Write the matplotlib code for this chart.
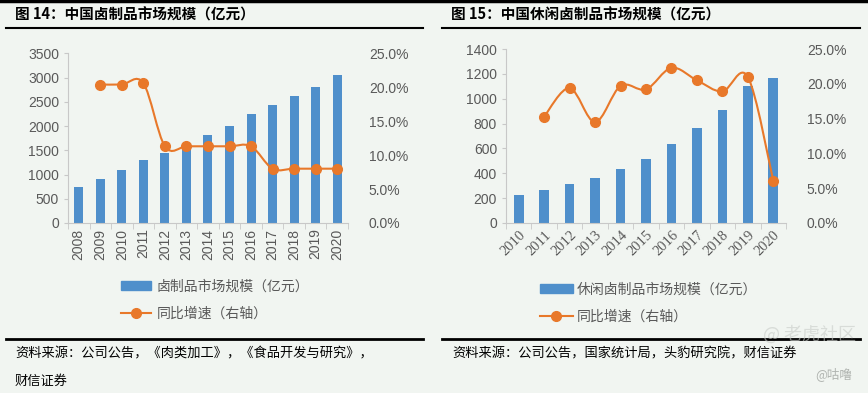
import numpy as np
import matplotlib
matplotlib.use("Agg")
import matplotlib.pyplot as plt
from matplotlib.path import Path
from matplotlib.patches import PathPatch, Patch
from matplotlib.lines import Line2D
from matplotlib.ticker import PercentFormatter

plt.rcParams['font.family'] = ['Liberation Sans', 'Noto Sans CJK SC', 'DejaVu Sans']

# left chart: 卤制品市场规模
years_l = ['2008', '2009', '2010', '2011', '2012', '2013', '2014',
           '2015', '2016', '2017', '2018', '2019', '2020']
size_l = [745, 903, 1088, 1293, 1446, 1620, 1810, 2010, 2244, 2430, 2610, 2815, 3055]
growth_l = [None, 20.4, 20.4, 20.6, 11.3, 11.3, 11.3, 11.3, 11.3, 8.0, 8.0, 8.0, 8.0]

# right chart: 休闲卤制品市场规模
years_r = ['2010', '2011', '2012', '2013', '2014', '2015',
           '2016', '2017', '2018', '2019', '2020']
size_r = [223, 263, 312, 365, 433, 516, 637, 766, 908, 1099, 1169]
growth_r = [None, 15.3, 19.4, 14.5, 19.7, 19.2, 22.3, 20.5, 18.9, 21.0, 6.1]

BG = '#F1F5F1'
BAR = '#4F8FCB'
ORANGE = '#E8782A'
GRAY = '#595959'
CJK = ['Noto Sans CJK SC', 'DejaVu Sans']


def smooth_path(xs, ys):
    # catmull-rom through the points, as cubic bezier segments
    verts = [(xs[0], ys[0])]
    codes = [Path.MOVETO]
    n = len(xs)
    for i in range(n - 1):
        x0, y0 = (xs[i - 1], ys[i - 1]) if i > 0 else (xs[i], ys[i])
        x1, y1 = xs[i], ys[i]
        x2, y2 = xs[i + 1], ys[i + 1]
        x3, y3 = (xs[i + 2], ys[i + 2]) if i + 2 < n else (x2, y2)
        c1 = (x1 + (x2 - x0) / 6, y1 + (y2 - y0) / 6)
        c2 = (x2 - (x3 - x1) / 6, y2 - (y3 - y1) / 6)
        verts += [c1, c2, (x2, y2)]
        codes += [Path.CURVE4] * 3
    return Path(verts, codes)


def draw_panel(rect, years, sizes, growth, ymax, ystep, serif_x, bar_w):
    ax = fig.add_axes(rect)
    ax.set_facecolor('none')
    x = np.arange(len(years))
    ax.bar(x, sizes, width=bar_w, color=BAR, zorder=2)
    ax.set_xlim(-0.5, len(years) - 0.5)
    ax.set_ylim(0, ymax)
    ax.set_yticks(np.arange(0, ymax + 1, ystep))
    for s in ['top', 'right']:
        ax.spines[s].set_visible(False)
    for s in ['left', 'bottom']:
        ax.spines[s].set_color('#C8C8C8')
    ax.tick_params(axis='y', colors='#C8C8C8', labelcolor=GRAY, labelsize=10, length=3)
    ax.set_xticks(x)
    ax.set_xticks(np.arange(-0.5, len(years)), minor=True)
    ax.tick_params(axis='x', which='major', length=0, pad=4, labelcolor=GRAY)
    ax.tick_params(axis='x', which='minor', length=4, color='#C8C8C8')
    if serif_x:
        ax.set_xticklabels(years, rotation=45, ha='right', rotation_mode='anchor',
                           fontfamily='Liberation Serif', fontsize=10.5)
    else:
        ax.set_xticklabels(years, rotation=90, fontsize=10)

    ax2 = ax.twinx()
    ax2.set_ylim(0, 25)
    ax2.set_yticks(np.arange(0, 26, 5))
    ax2.yaxis.set_major_formatter(PercentFormatter(decimals=1))
    ax2.tick_params(axis='y', length=0, labelcolor=GRAY, labelsize=10, pad=15)
    for s in ax2.spines.values():
        s.set_visible(False)
    gx = [xi for xi, g in zip(x, growth) if g is not None]
    gy = [g for g in growth if g is not None]
    ax2.add_patch(PathPatch(smooth_path(gx, gy), fill=False, edgecolor=ORANGE, lw=1.5, zorder=3))
    ax2.plot(gx, gy, 'o', color=ORANGE, ms=7, zorder=4)
    return ax, ax2


fig = plt.figure(figsize=(8.68, 3.93), dpi=100, facecolor=BG)

draw_panel([0.0783, 0.4326, 0.3226, 0.4318], years_l, size_l, growth_l,
           3500, 500, False, 0.42)
draw_panel([0.583, 0.4326, 0.3225, 0.4427], years_r, size_r, growth_r,
           1400, 200, True, 0.38)

# titles and rules
fig.add_artist(Line2D([0, 1], [1 - 1 / 393, 1 - 1 / 393], color='black', lw=2.5))
for x0, x1, title in [(6, 423, '图 14：中国卤制品市场规模（亿元）'),
                      (442, 860, '图 15：中国休闲卤制品市场规模（亿元）')]:
    fig.text((x0 + 9) / 868, 1 - 15 / 393, title, fontsize=10.5, fontweight='bold',
             family=CJK, va='center', ha='left')
    fig.add_artist(Line2D([x0 / 868, x1 / 868], [1 - 28 / 393] * 2, color='black', lw=1.5))
    fig.add_artist(Line2D([x0 / 868, x1 / 868], [1 - 339 / 393] * 2, color='black', lw=2))

# legends
fig.legend(handles=[Patch(color=BAR, label='卤制品市场规模（亿元）'),
                    Line2D([], [], color=ORANGE, marker='o', ms=7, lw=1.5, label='同比增速（右轴）')],
           loc='center left', bbox_to_anchor=(108 / 868, 1 - 300 / 393), frameon=False,
           prop={'family': CJK, 'size': 10}, handlelength=2.2, handleheight=0.6,
           handletextpad=0.4, labelspacing=0.9, labelcolor=GRAY)
fig.legend(handles=[Patch(color=BAR, label='休闲卤制品市场规模（亿元）'),
                    Line2D([], [], color=ORANGE, marker='o', ms=7, lw=1.5, label='同比增速（右轴）')],
           loc='center left', bbox_to_anchor=(527 / 868, 1 - 303 / 393), frameon=False,
           prop={'family': CJK, 'size': 10}, handlelength=2.4, handleheight=0.6,
           handletextpad=0.3, labelspacing=0.9, labelcolor=GRAY)

# sources
fig.text(15 / 868, 1 - 354 / 393, '资料来源：公司公告，《肉类加工》，《食品开发与研究》，',
         fontsize=9.5, family=CJK, va='center', style='italic')
fig.text(15 / 868, 1 - 381 / 393, '财信证券', fontsize=9.5, family=CJK, va='center', style='italic')
fig.text(452 / 868, 1 - 354 / 393, '资料来源：公司公告，国家统计局，头豹研究院，财信证券',
         fontsize=9.5, family=CJK, va='center', style='italic')

# watermark
fig.text(856 / 868, 1 - 335 / 393, '@ 老虎社区', fontsize=13, family=CJK, color='#C8CCC8',
         alpha=0.6, ha='right', va='center')
fig.text(852 / 868, 1 - 374 / 393, '@咕噜', fontsize=9, family=CJK, color='#B0B4B0',
         ha='right', va='center')

fig.savefig('out.png', dpi=100, facecolor=BG)
